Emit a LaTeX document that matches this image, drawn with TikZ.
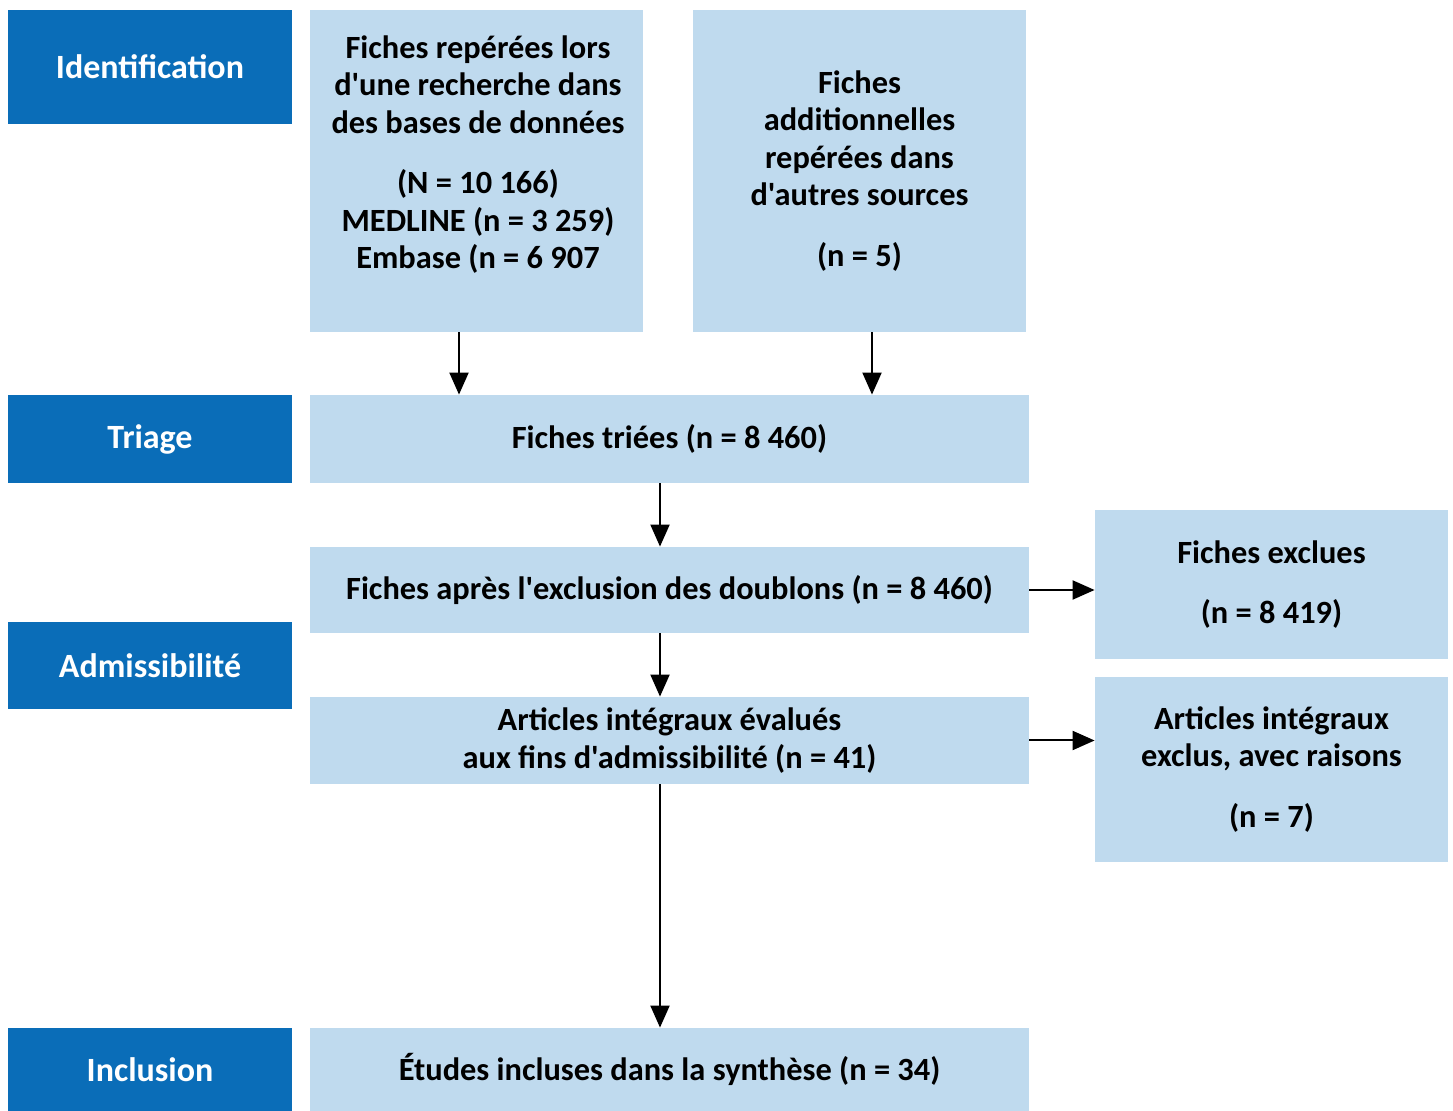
\documentclass[tikz,border=0pt]{standalone}
\usepackage{fontspec}
\setmainfont{Carlito}[Ligatures=TeXOff]
\usetikzlibrary{arrows.meta}

\definecolor{phaseblue}{HTML}{0A6DB8}
\definecolor{boxblue}{HTML}{BFDAEE}

\tikzset{
  phase/.style={fill=phaseblue, text=white, font=\bfseries\fontsize{17}{20}\selectfont,
    minimum width=142pt, inner sep=0pt},
  box/.style={fill=boxblue, align=center, font=\bfseries\fontsize{16.2}{18.75}\selectfont,
    inner sep=0pt},
  arr/.style={line width=1pt, -{Triangle[length=11pt,width=9.5pt]}}
}

\begin{document}
\begin{tikzpicture}[x=0.5pt,y=-0.5pt]
\useasboundingbox (0,0) rectangle (1453,1111);

% phases
\node[phase, minimum height=57pt] (ident) at (150,67) {Identification};
\node[phase, minimum height=44pt] (triage) at (150,439) {Triage};
\node[phase, minimum height=43.5pt] (admis) at (150,665.5) {Admissibilit\'e};
\node[phase, minimum height=41.5pt] (incl) at (150,1069.5) {Inclusion};

% identification
\node[box, minimum width=166.5pt, minimum height=161pt] (db) at (476.5,171) {};
\node[box, fill=none] (dbtext) at (478,154.5) {Fiches rep\'er\'ees lors\\d'une recherche dans\\des bases de donn\'ees\\[11.5pt]
  (N = 10 166)\\MEDLINE (n = 3 259)\\Embase (n = 6 907};
\node[box, minimum width=166.5pt, minimum height=161pt] (other) at (859.5,171)
  {Fiches\\additionnelles\\rep\'er\'ees dans\\d'autres sources\\[11.5pt](n = 5)};

% triage, admissibilite, inclusion
\node[box, minimum width=359.5pt, minimum height=44pt] (trie) at (669.5,439) {Fiches tri\'ees (n = 8 460)};
\node[box, minimum width=359.5pt, minimum height=43pt] (doub) at (669.5,590)
  {Fiches apr\`es l'exclusion des doublons (n = 8 460)};
\node[box, minimum width=359.5pt, minimum height=43.5pt] (integ) at (669.5,740.5)
  {Articles int\'egraux \'evalu\'es\\aux fins d'admissibilit\'e (n = 41)};
\node[box, minimum width=359.5pt, minimum height=41.5pt] (etudes) at (669.5,1069.5)
  {\'Etudes incluses dans la synth\`ese (n = 34)};

% exclusions
\node[box, minimum width=176.5pt, minimum height=74.5pt] (exclues) at (1271.5,584.5)
  {Fiches exclues\\[11.5pt](n = 8 419)};
\node[box, minimum width=176.5pt, minimum height=92.5pt] (exclus) at (1271.5,769.5)
  {Articles int\'egraux\\exclus, avec raisons\\[11.5pt](n = 7)};

% arrows
\draw[arr] (459,0 |- db.south) -- (459,0 |- trie.north);
\draw[arr] (872,0 |- other.south) -- (872,0 |- trie.north);
\draw[arr] (660,0 |- trie.south) -- (660,0 |- doub.north);
\draw[arr] (660,0 |- doub.south) -- (660,0 |- integ.north);
\draw[arr] (660,0 |- integ.south) -- (660,0 |- etudes.north);
\draw[arr] (doub.east) -- (exclues.west |- doub.east);
\draw[arr] (integ.east) -- (exclus.west |- integ.east);

\end{tikzpicture}
\end{document}
